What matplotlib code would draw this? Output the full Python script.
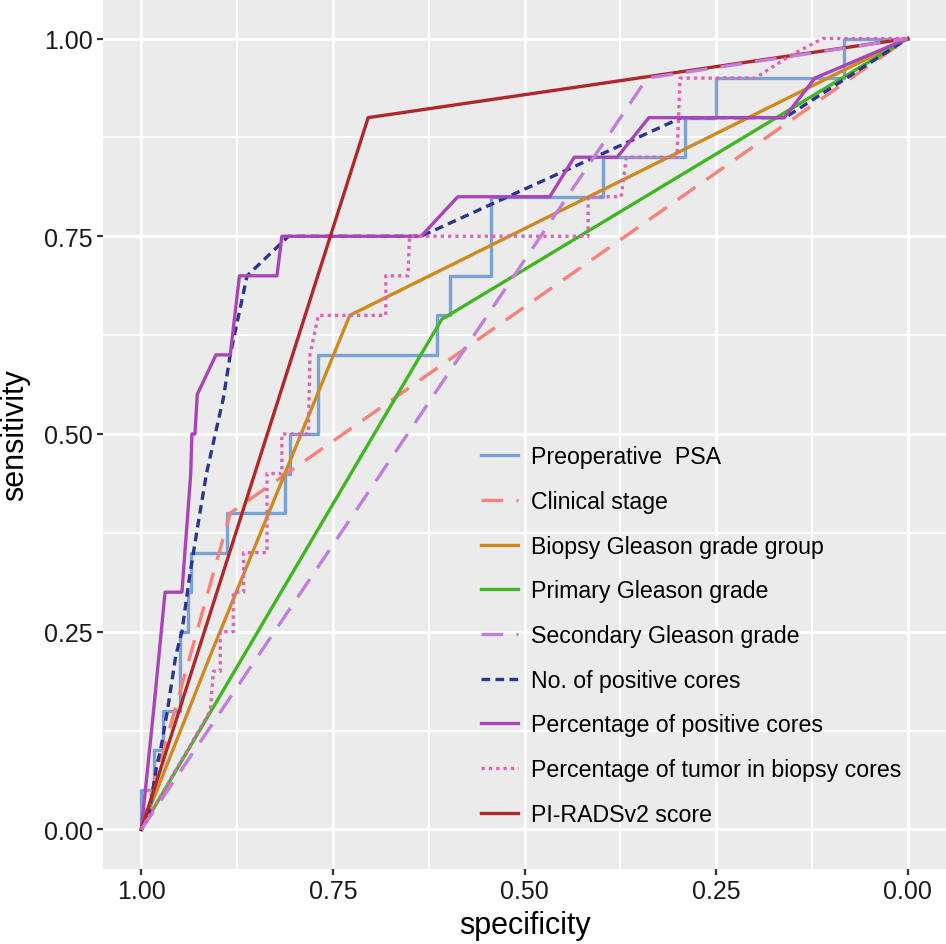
import matplotlib.pyplot as plt

plt.rcParams['font.family'] = ['Liberation Sans', 'DejaVu Sans']

# ROC curves: (specificity, sensitivity)
spec_psa = [1.0, 1.0, 0.984, 0.984, 0.972, 0.972, 0.949, 0.949, 0.939, 0.939, 0.935, 0.935,
            0.888, 0.888, 0.812, 0.812, 0.806, 0.806, 0.770, 0.770, 0.6145, 0.6145, 0.597, 0.597,
            0.544, 0.544, 0.397, 0.397, 0.291, 0.291, 0.25, 0.25, 0.083, 0.083, 0.0]
sens_psa = [0.0, 0.05, 0.05, 0.10, 0.10, 0.15, 0.15, 0.25, 0.25, 0.30, 0.30, 0.35,
            0.35, 0.40, 0.40, 0.45, 0.45, 0.50, 0.50, 0.60, 0.60, 0.65, 0.65, 0.70,
            0.70, 0.80, 0.80, 0.85, 0.85, 0.90, 0.90, 0.95, 0.95, 1.0, 1.0]

spec_stage = [1.0, 0.884, 0.0]
sens_stage = [0.0, 0.40, 1.0]

spec_grade_group = [1.0, 0.91, 0.728, 0.0]
sens_grade_group = [0.0, 0.22, 0.65, 1.0]

spec_primary = [1.0, 0.608, 0.0]
sens_primary = [0.0, 0.645, 1.0]

spec_secondary = [1.0, 0.34, 0.0]
sens_secondary = [0.0, 0.95, 1.0]

spec_n_cores = [1.0, 0.99, 0.98, 0.975, 0.966, 0.955, 0.947, 0.937, 0.927, 0.915, 0.9035,
                0.893, 0.884, 0.873, 0.862, 0.808, 0.635, 0.295, 0.16, 0.0]
sens_n_cores = [0.0, 0.02, 0.08, 0.10, 0.15, 0.22, 0.25, 0.32, 0.38, 0.45, 0.50,
                0.545, 0.60, 0.65, 0.70, 0.75, 0.75, 0.90, 0.90, 1.0]

spec_pct_cores = [1.0, 0.984, 0.969, 0.947, 0.9355, 0.934, 0.930, 0.927, 0.9026, 0.884, 0.872,
                  0.823, 0.8166, 0.635, 0.587, 0.467, 0.435, 0.379, 0.3377, 0.161, 0.121, 0.0]
sens_pct_cores = [0.0, 0.15, 0.30, 0.30, 0.45, 0.50, 0.50, 0.55, 0.60, 0.60, 0.70,
                  0.70, 0.75, 0.75, 0.80, 0.80, 0.85, 0.85, 0.90, 0.90, 0.95, 1.0]

spec_pct_tumor = [1.0, 0.91, 0.906, 0.897, 0.897, 0.88, 0.88, 0.8665, 0.8665, 0.836, 0.836,
                  0.8166, 0.8166, 0.782, 0.78, 0.769, 0.681, 0.681, 0.652, 0.650, 0.417, 0.417,
                  0.374, 0.367, 0.301, 0.297, 0.199, 0.154, 0.111, 0.0]
sens_pct_tumor = [0.0, 0.15, 0.20, 0.20, 0.25, 0.25, 0.30, 0.30, 0.35, 0.35, 0.45,
                  0.45, 0.50, 0.50, 0.60, 0.65, 0.65, 0.70, 0.70, 0.75, 0.75, 0.80,
                  0.80, 0.85, 0.85, 0.95, 0.95, 0.978, 1.0, 1.0]

spec_pirads = [1.0, 0.704, 0.0]
sens_pirads = [0.0, 0.90, 1.0]

xticks = [1.00, 0.75, 0.50, 0.25, 0.00]
yticks = [0.00, 0.25, 0.50, 0.75, 1.00]

fig = plt.figure(figsize=(9.46, 9.45), dpi=100)
ax = fig.add_axes([103 / 946, 1 - 870 / 945, 843 / 946, 870 / 945])
ax.set_facecolor('#EBEBEB')

lw = 2.4
ax.plot(spec_psa, sens_psa, color='#7AA2D6', lw=lw, label='Preoperative  PSA', zorder=3)
ax.plot(spec_stage, sens_stage, color='#F8827A', lw=lw, dashes=(6.5, 4),
        label='Clinical stage', zorder=3)
ax.plot(spec_grade_group, sens_grade_group, color='#CF8A1F', lw=lw,
        label='Biopsy Gleason grade group', zorder=3)
ax.plot(spec_primary, sens_primary, color='#41B623', lw=lw,
        label='Primary Gleason grade', zorder=3)
ax.plot(spec_secondary, sens_secondary, color='#C07FDD', lw=lw, dashes=(6.5, 4),
        label='Secondary Gleason grade', zorder=6)
ax.plot(spec_n_cores, sens_n_cores, color='#2C3590', lw=lw, dashes=(2.6, 1.6),
        label='No. of positive cores', zorder=4)
ax.plot(spec_pct_cores, sens_pct_cores, color='#A945B8', lw=lw,
        label='Percentage of positive cores', zorder=4)
ax.plot(spec_pct_tumor, sens_pct_tumor, color='#E064B4', lw=lw, dashes=(1, 1.2),
        label='Percentage of tumor in biopsy cores', zorder=7)
ax.plot(spec_pirads, sens_pirads, color='#B0282A', lw=lw,
        label='PI-RADSv2 score', zorder=5)

ax.set_xlim(1.05, -0.05)
ax.set_ylim(-0.05, 1.05)
ax.set_xticks(xticks)
ax.set_yticks(yticks)
ax.set_xticklabels(['%.2f' % v for v in xticks])
ax.set_yticklabels(['%.2f' % v for v in yticks])
ax.set_xticks([0.875, 0.625, 0.375, 0.125], minor=True)
ax.set_yticks([0.125, 0.375, 0.625, 0.875], minor=True)
ax.grid(True, which='major', color='white', lw=2.0, zorder=1)
ax.grid(True, which='minor', color='white', lw=1.4, zorder=1)
ax.set_axisbelow(True)
ax.tick_params(which='major', length=4.5, width=1.6, color='#333333',
               labelsize=18, labelcolor='#1A1A1A', pad=3)
ax.tick_params(which='minor', length=0)
for s in ax.spines.values():
    s.set_visible(False)

ax.set_xlabel('specificity', fontsize=22, labelpad=5)
ax.set_ylabel('sensitivity', fontsize=22, labelpad=10)

ax.legend(loc='upper left', bbox_to_anchor=((472 - 103) / 843, (870 - 437) / 870),
          frameon=False, fontsize=16.7, handlelength=1.6, handletextpad=0.55,
          labelspacing=0.935, borderaxespad=0)

fig.savefig('out.png', dpi=100)
